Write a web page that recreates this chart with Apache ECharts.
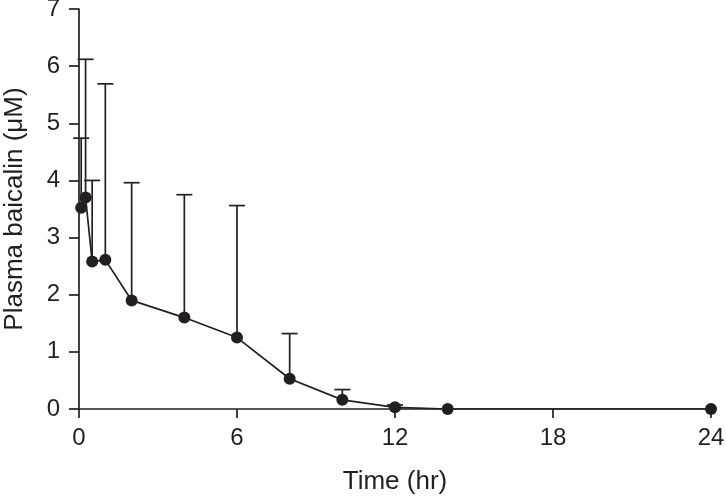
<!DOCTYPE html>
<html>
<head>
<meta charset="utf-8">
<script src="https://cdn.jsdelivr.net/npm/echarts@6/dist/echarts.min.js"></script>
<style>
html,body{margin:0;padding:0;background:#fff;}
#chart{width:726px;height:496px;}
</style>
</head>
<body>
<div id="chart"></div>
<script>
// Data
var times = [0.083, 0.25, 0.5, 1, 2, 4, 6, 8, 10, 12, 14, 24];
var means = [3.52, 3.70, 2.58, 2.61, 1.90, 1.60, 1.25, 0.53, 0.16, 0.03, 0, 0];
var upper = [4.74, 6.12, 4.00, 5.69, 3.96, 3.75, 3.56, 1.32, 0.34, 0.07, 0, 0];
var xTicks = [0, 6, 12, 18, 24];
var yTicks = [0, 1, 2, 3, 4, 5, 6, 7];
var xName = 'Time (hr)';
var yName = 'Plasma baicalin (\u03bcM)';

var ink = '#231f20';
var font = '"Liberation Sans", Arial, Helvetica, sans-serif';

var lineData = times.map(function (t, i) { return [t, means[i]]; });
var errData = times.map(function (t, i) { return [t, means[i], upper[i]]; });

var chart = echarts.init(document.getElementById('chart'));
chart.setOption({
  animation: false,
  backgroundColor: '#fff',
  grid: { left: 79, right: 15, top: 9, bottom: 87, containLabel: false, outerBoundsMode: 'none' },
  xAxis: {
    type: 'value', min: xTicks[0], max: xTicks[xTicks.length - 1], interval: 6,
    name: xName, nameLocation: 'middle', nameGap: 60,
    nameTextStyle: { color: ink, fontSize: 26, fontFamily: font },
    axisLine: { onZero: false, lineStyle: { color: ink, width: 1.7 } },
    axisTick: { show: true, inside: false, length: 9, lineStyle: { color: ink, width: 1.7 } },
    axisLabel: { color: ink, fontSize: 24, fontFamily: font, margin: 17 },
    splitLine: { show: false }
  },
  yAxis: {
    type: 'value', min: yTicks[0], max: yTicks[yTicks.length - 1], interval: 1,
    name: yName, nameLocation: 'middle', nameGap: 51, nameRotate: 90,
    nameTextStyle: { color: ink, fontSize: 26, fontFamily: font },
    axisLine: { show: true, lineStyle: { color: ink, width: 1.7 } },
    axisTick: { show: true, inside: false, length: 10, lineStyle: { color: ink, width: 1.7 } },
    axisLabel: { color: ink, fontSize: 24, fontFamily: font, margin: 19, padding: [5, 0, 0, 0] },
    splitLine: { show: false }
  },
  series: [
    {
      type: 'custom',
      z: 1,
      data: errData,
      renderItem: function (params, api) {
        var t = api.value(0), m = api.value(1), u = api.value(2);
        if (!(u > m)) return { type: 'group', children: [] };
        var p0 = api.coord([t, m]);
        var p1 = api.coord([t, u]);
        var half = 8;
        var st = { stroke: ink, lineWidth: 1.7 };
        return {
          type: 'group',
          children: [
            { type: 'line', shape: { x1: p0[0], y1: p0[1], x2: p1[0], y2: p1[1] }, style: st },
            { type: 'line', shape: { x1: p1[0] - half, y1: p1[1], x2: p1[0] + half, y2: p1[1] }, style: st }
          ]
        };
      }
    },
    {
      type: 'line',
      z: 3,
      data: lineData,
      symbol: 'circle',
      symbolSize: 12,
      lineStyle: { color: ink, width: 1.7 },
      itemStyle: { color: ink, borderWidth: 0 }
    }
  ]
});
</script>
</body>
</html>
